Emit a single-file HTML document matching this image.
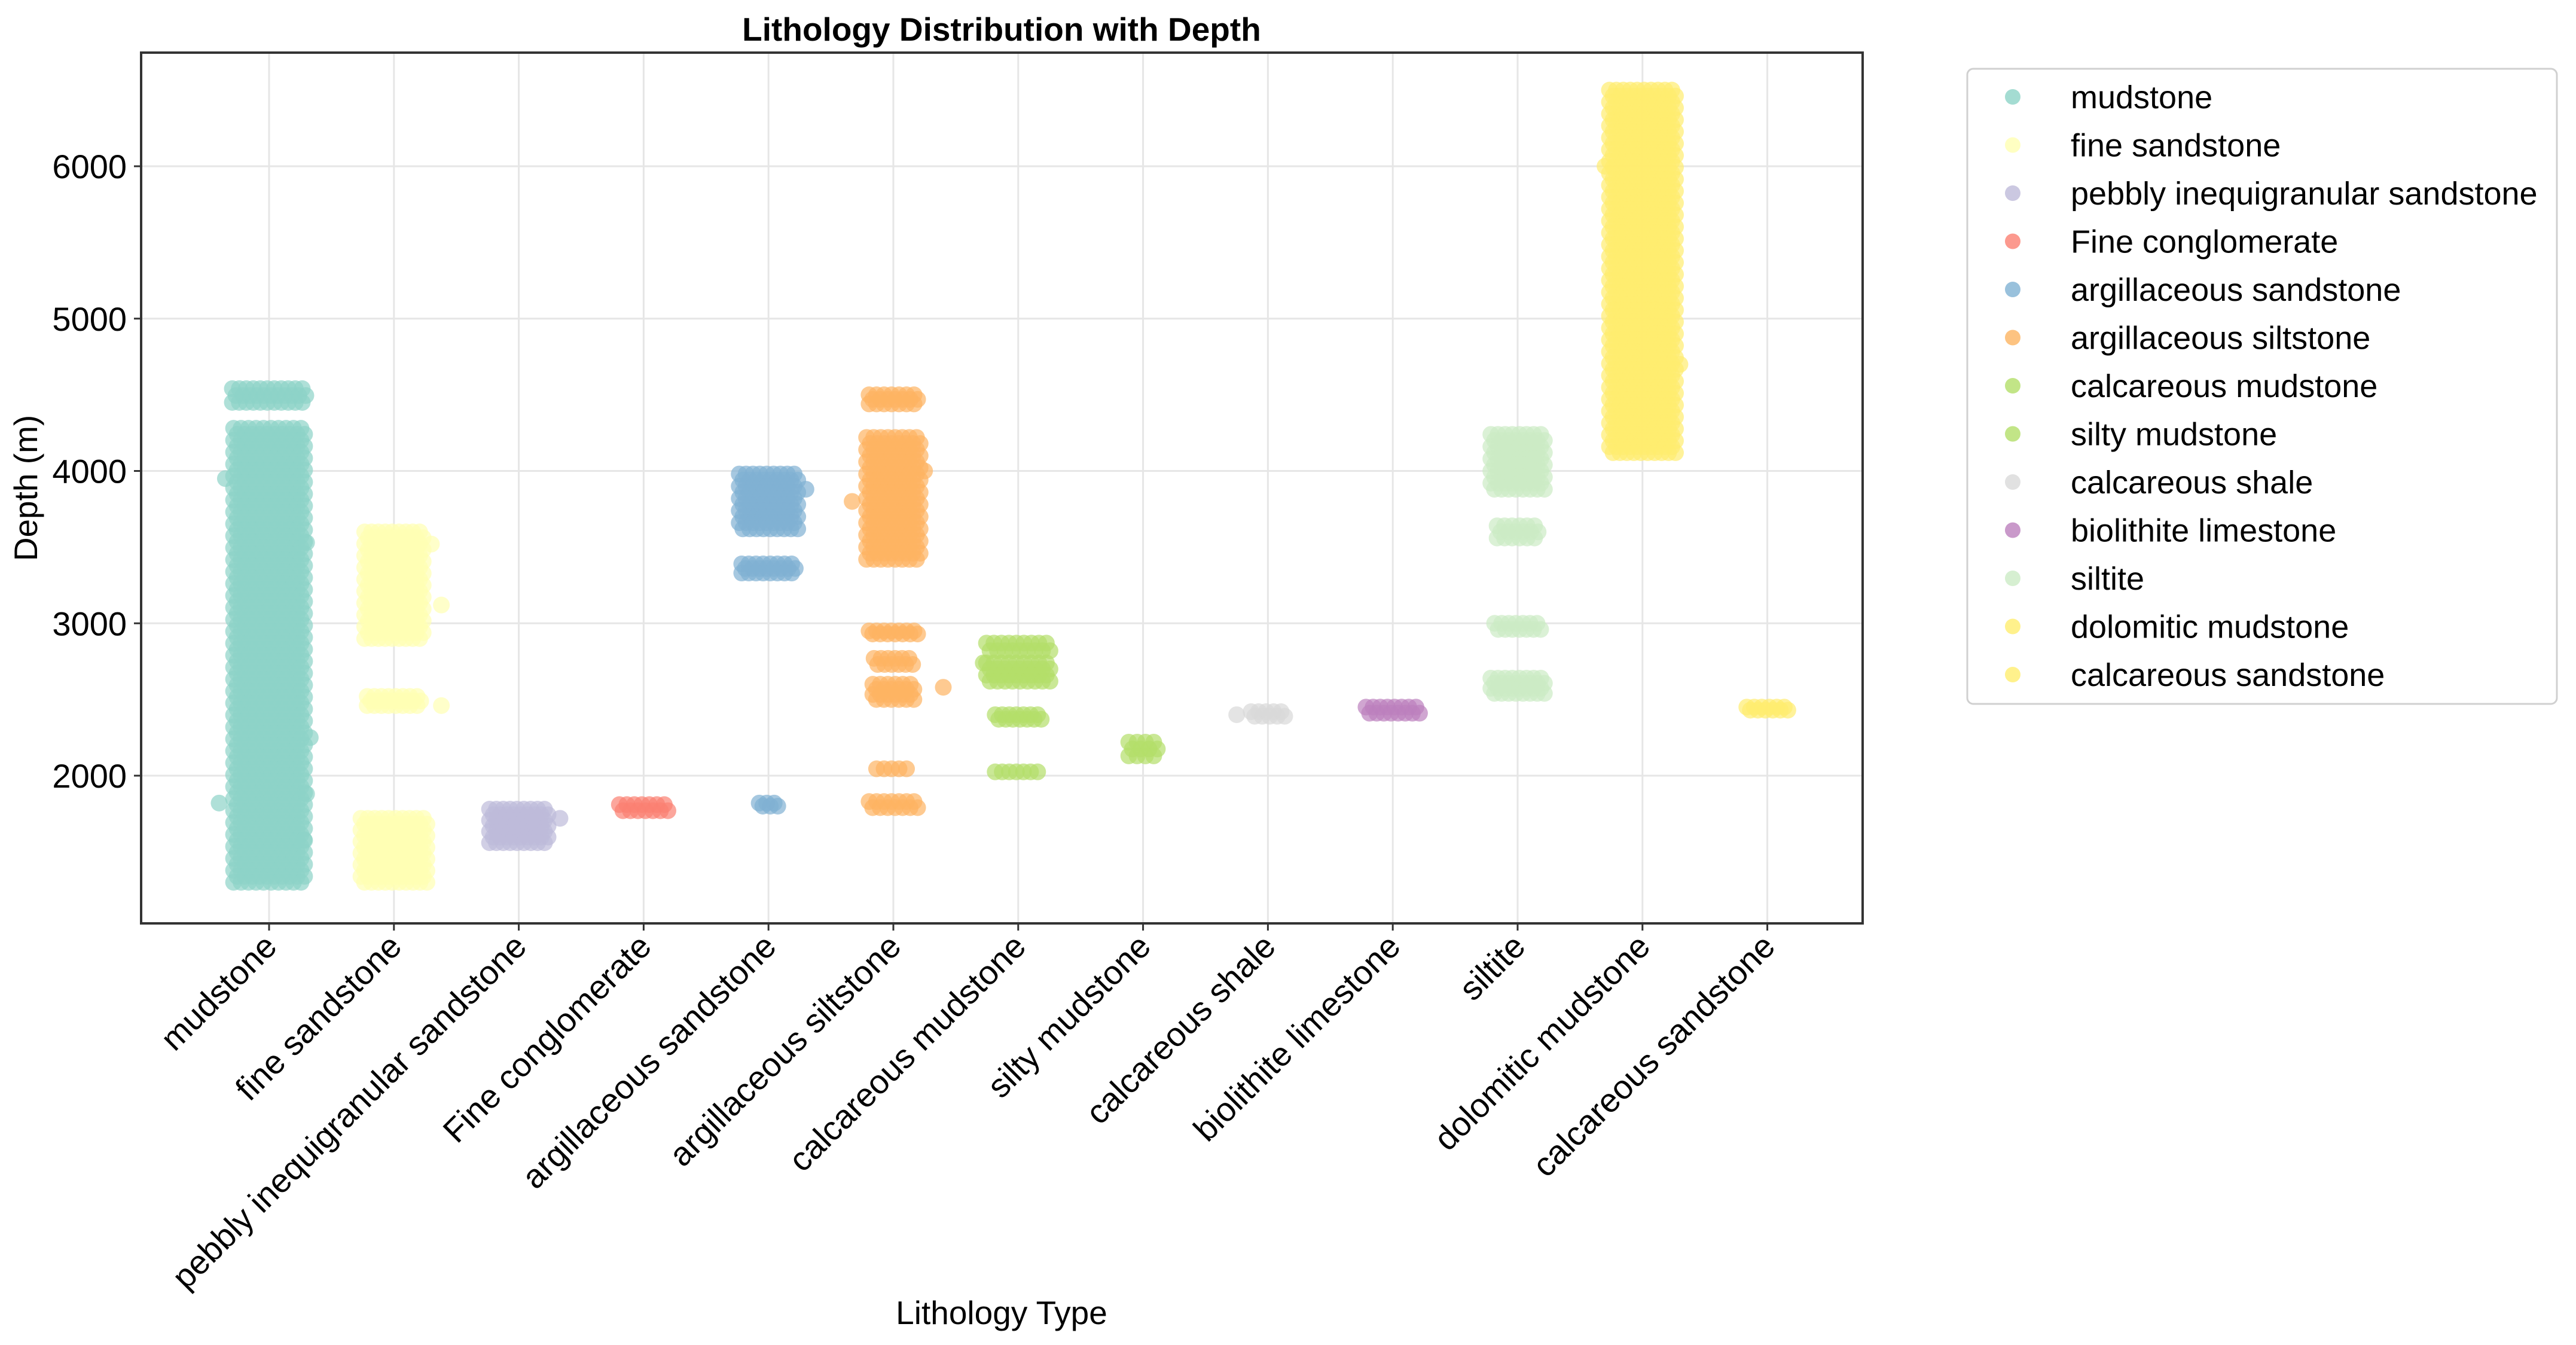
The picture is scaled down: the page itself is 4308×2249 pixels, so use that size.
<!DOCTYPE html>
<html><head><meta charset="utf-8"><style>
body{margin:0;background:#fff}
svg{display:block;font-family:"Liberation Sans",Arial,sans-serif}
</style></head><body>
<svg id="chart" width="4308" height="2249" viewBox="0 0 4308 2249" xmlns="http://www.w3.org/2000/svg">
<rect width="4308" height="2249" fill="#fff"/>
<g id="grid"></g>
<g id="points"></g>
<rect x="236" y="88" width="2879" height="1456" fill="none" stroke="#333" stroke-width="4"/>
<g id="axes"></g>
<text x="1675" y="68" text-anchor="middle" font-size="55" font-weight="bold">Lithology Distribution with Depth</text>
<text x="1675" y="2214" text-anchor="middle" font-size="55">Lithology Type</text>
<text transform="translate(62,816) rotate(-90)" text-anchor="middle" font-size="55">Depth (m)</text>
<rect x="3290" y="115" width="986" height="1062" rx="10" fill="#fff" stroke="#d0d0d0" stroke-width="3"/>
<g id="legend"></g>
</svg>
<script>
const categories=["mudstone","fine sandstone","pebbly inequigranular sandstone","Fine conglomerate","argillaceous sandstone","argillaceous siltstone","calcareous mudstone","silty mudstone","calcareous shale","biolithite limestone","siltite","dolomitic mudstone","calcareous sandstone"];
const colors=["#8dd3c7","#ffffb3","#bebada","#fb8072","#80b1d3","#fdb462","#b3de69","#b3de69","#d9d9d9","#bc80bd","#ccebc5","#ffed6f","#ffed6f"];
const yTicks=[2000,3000,4000,5000,6000];
// clusters: [category index, depth low, depth high, jitter half-width (category units)]
const clusters=[
[0,1300,4280,0.27],[0,4450,4540,0.28],
[1,1300,1720,0.25],[1,2900,3600,0.22],[1,2460,2520,0.2],
[2,1560,1780,0.22],
[3,1770,1810,0.18],
[4,3620,3980,0.22],[4,3330,3390,0.2],[4,1800,1820,0.06],
[5,3420,4220,0.2],[5,4440,4500,0.18],[5,2930,2950,0.18],[5,2730,2770,0.14],[5,2500,2600,0.15],[5,2040,2050,0.12],[5,1790,1830,0.18],
[6,2620,2740,0.24],[6,2820,2870,0.24],[6,2370,2400,0.17],[6,2020,2030,0.17],
[7,2130,2220,0.1],
[8,2390,2420,0.12],
[9,2410,2450,0.2],
[10,3880,4240,0.2],[10,3560,3640,0.15],[10,2960,3000,0.17],[10,2540,2640,0.2],
[11,4120,6500,0.25],
[12,2430,2450,0.15]];
// outliers: [category index, depth, offset]
const outliers=[[0,1820,-0.4],[0,2250,0.33],[0,1880,0.3],[0,3950,-0.35],[0,1580,0.28],[0,3530,0.3],
[1,3120,0.38],[1,2460,0.38],[1,3520,0.3],[2,1720,0.33],[4,3880,0.3],
[5,3800,-0.33],[5,2580,0.4],[5,4000,0.25],[6,2740,-0.28],[8,2400,-0.25],[11,6000,-0.3],[11,4700,0.3]];
const NS="http://www.w3.org/2000/svg";
const X0=450,DX=208.8;
function xs(i){return X0+i*DX;}
function ys(v){return 1297-(v-2000)*0.25475;}
function mk(tag,attrs,parent){const e=document.createElementNS(NS,tag);for(const k in attrs)e.setAttribute(k,attrs[k]);parent.appendChild(e);return e;}
const grid=document.getElementById('grid'),axes=document.getElementById('axes'),pts=document.getElementById('points'),leg=document.getElementById('legend');
yTicks.forEach(v=>{
 const l=mk('line',{x1:236,x2:3115,y1:ys(v),y2:ys(v),stroke:'#e6e6e6','stroke-width':3},grid);
 
 
 const t=mk('line',{x1:224,x2:236,y1:ys(v),y2:ys(v),stroke:'#333','stroke-width':3},axes);
 
 
 const tx=mk('text',{x:212,y:ys(v)+20,'text-anchor':'end','font-size':56},axes);
 tx.textContent=v;
 
 
});
categories.forEach((c,i)=>{
 const x=xs(i);
 const l=mk('line',{x1:x,x2:x,y1:88,y2:1544,stroke:'#e6e6e6','stroke-width':3},grid);
 
 
 const t=mk('line',{x1:x,x2:x,y1:1544,y2:1556,stroke:'#333','stroke-width':3},axes);
 
 
 const tx=mk('text',{transform:`translate(${x+16},1586) rotate(-45)`,'text-anchor':'end','font-size':56},axes);
 tx.textContent=c;
 
 
 const ly=162+i*80.5;
 const m=mk('circle',{cx:3366,cy:ly,r:13,fill:colors[i],'fill-opacity':0.8},leg);
 
 
 const lt=mk('text',{x:3463,y:ly+19,'font-size':54},leg);
 lt.textContent=c;
 
 
});
const R=14;
clusters.forEach(cl=>{
 const [ci,lo,hi,hw]=cl;
 const y1=ys(hi),y2=ys(lo),cx=xs(ci),w=hw*DX;
 const rows=Math.max(1,Math.round((y2-y1)/10)+1);
 const cols=Math.max(1,Math.round(2*w/12)+1);
 for(let r=0;r<rows;r++){
  const y=rows===1?(y1+y2)/2:y1+(y2-y1)*r/(rows-1);
  for(let k=0;k<cols;k++){
   const x=cols===1?cx:cx-w+2*w*k/(cols-1)+((r%2)?3:-3);
   const c=mk('circle',{cx:x,cy:y,r:R,fill:colors[ci],'fill-opacity':0.7},pts);
   
   
  }
 }
});
outliers.forEach(o=>{
 const c=mk('circle',{cx:xs(o[0])+o[2]*DX,cy:ys(o[1]),r:R,fill:colors[o[0]],'fill-opacity':0.7},pts);
 
 
});
</script>
</body></html>
